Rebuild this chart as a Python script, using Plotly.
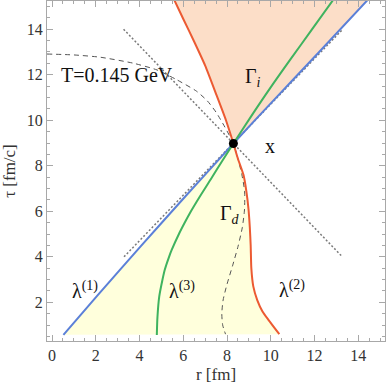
import plotly.graph_objects as go

# 交点 X
x_r = [8.29]
x_tau = [8.98]

# λ(1) 青: 下側(底→X) と 上側(X→上端)
lam1_lo_r = [0.52, 2.05, 4.08, 6.11, 8.29]
lam1_lo_tau = [0.57, 2.27, 4.49, 6.67, 8.98]
lam1_up_r = [8.29, 10.17, 12.21, 14.44]
lam1_up_tau = [8.98, 10.92, 13.0, 15.3]

# λ(3) 緑
lam3_r = [4.79, 4.82, 4.9, 5.05, 5.15, 5.35, 5.47, 5.8, 6.05, 6.35, 6.75, 7.25, 7.77, 8.29,
          9.1, 9.97, 10.88, 11.85, 12.86]
lam3_tau = [0.56, 1.37, 2.25, 3.0, 3.42, 4.0, 4.3, 5.0, 5.47, 6.0, 6.64, 7.4, 8.2, 8.98,
            10.17, 11.41, 12.65, 13.95, 15.3]

# λ(2) オレンジ: 上側(上端→X) と 下側(X→底)
lam2_up_r = [5.58, 6.0, 6.5, 7.0, 7.5, 7.95, 8.29]
lam2_up_tau = [15.3, 14.45, 13.45, 12.4, 11.15, 10.0, 8.98]
lam2_lo_r = [8.29, 8.5, 8.75, 8.88, 8.98, 9.04, 9.08, 9.11, 9.2, 9.38, 9.62, 9.9, 10.39]
lam2_lo_tau = [8.98, 8.3, 7.6, 6.9, 6.1, 5.3, 4.5, 3.5, 2.7, 2.1, 1.6, 1.22, 0.6]

# T=0.145 GeV 等温線（破線）
iso_r = [-0.23, 1.0, 2.2, 3.7, 4.8, 5.7, 6.6, 7.1, 7.5, 7.9, 8.29,
         8.5, 8.68, 8.8, 8.8, 8.7, 8.5, 8.25, 8.0, 7.82, 7.76, 7.8, 7.93]
iso_tau = [12.91, 12.87, 12.77, 12.51, 12.21, 11.78, 11.28, 10.85, 10.35, 9.7, 8.98,
           8.3, 7.6, 6.9, 6.1, 5.3, 4.45, 3.6, 2.8, 2.1, 1.5, 1.0, 0.6]

# 光円錐（点線）
cone_a_r = [3.29, 13.29]
cone_a_tau = [4.0, 14.0]
cone_b_r = [3.27, 13.27]
cone_b_tau = [14.0, 4.0]

# ラベル
labels = [
    ("T=0.145 GeV", 2.97, 11.99),
    ("x", 9.97, 8.88),
    ("Γ<sub><i>i</i></sub>", 9.19, 11.9),
    ("Γ<sub><i>d</i></sub>", 8.14, 5.85),
    ("λ<sup>(1)</sup>", 1.52, 2.54),
    ("λ<sup>(3)</sup>", 5.95, 2.54),
    ("λ<sup>(2)</sup>", 10.97, 2.58),
]

FONT = "Liberation Serif, Times New Roman, serif"
BLUE = "#5b80d8"
GREEN = "#3fb35f"
ORANGE = "#ec5a32"
FRAME = "#a8a8a8"

fig = go.Figure()

# 領域 Γd（黄）
fig.add_trace(go.Scatter(
    x=lam1_lo_r + lam2_lo_r,
    y=lam1_lo_tau + lam2_lo_tau,
    fill="toself", fillcolor="#ffffdc", line=dict(width=0),
    mode="lines", hoverinfo="skip", showlegend=False,
))
# 領域 Γi（ピーチ）
fig.add_trace(go.Scatter(
    x=lam2_up_r + lam1_up_r,
    y=lam2_up_tau + lam1_up_tau,
    fill="toself", fillcolor="#fcdec8", line=dict(width=0),
    mode="lines", hoverinfo="skip", showlegend=False,
))

for cr, ct in [(cone_a_r, cone_a_tau), (cone_b_r, cone_b_tau)]:
    fig.add_trace(go.Scatter(
        x=cr, y=ct, mode="lines",
        line=dict(color="#7a7a7a", width=1.5, dash="2px,2px"),
        showlegend=False,
    ))

fig.add_trace(go.Scatter(
    x=iso_r, y=iso_tau, mode="lines",
    line=dict(color="#555555", width=1, dash="5px,4px", shape="spline", smoothing=0.6),
    showlegend=False,
))

fig.add_trace(go.Scatter(
    x=lam1_lo_r + lam1_up_r[1:], y=lam1_lo_tau + lam1_up_tau[1:], mode="lines",
    line=dict(color=BLUE, width=2, shape="spline", smoothing=0.6), showlegend=False,
))
fig.add_trace(go.Scatter(
    x=lam3_r, y=lam3_tau, mode="lines",
    line=dict(color=GREEN, width=2, shape="spline", smoothing=0.8), showlegend=False,
))
fig.add_trace(go.Scatter(
    x=lam2_up_r + lam2_lo_r[1:], y=lam2_up_tau + lam2_lo_tau[1:], mode="lines",
    line=dict(color=ORANGE, width=2, shape="spline", smoothing=0.6), showlegend=False,
))

fig.add_trace(go.Scatter(
    x=x_r, y=x_tau, mode="markers",
    marker=dict(color="black", size=9), showlegend=False,
))

for text, r, t in labels:
    fig.add_annotation(
        x=r, y=t, text=text, showarrow=False,
        font=dict(family=FONT, size=20, color="#111111"),
    )

axis_common = dict(
    showgrid=False, zeroline=False,
    showline=True, linecolor=FRAME, linewidth=1, mirror="ticks",
    ticks="inside", ticklen=6, tickcolor=FRAME, tickwidth=1,
    tick0=0, dtick=2,
    minor=dict(ticks="inside", dtick=0.5, ticklen=3, tickcolor=FRAME),
    tickfont=dict(family=FONT, size=16, color="#333333"),
    automargin=False,
)

fig.update_xaxes(
    range=[-0.23, 15.22],
    title=dict(text="r [fm]", font=dict(family=FONT, size=17, color="#333333"), standoff=4),
    **axis_common,
)
fig.update_yaxes(
    range=[0.3, 15.24],
    title=dict(text="τ [fm/c]", font=dict(family=FONT, size=17, color="#333333"), standoff=8),
    **axis_common,
)

fig.update_layout(
    width=388, height=391,
    margin=dict(l=47, r=3, t=1, b=50),
    plot_bgcolor="white", paper_bgcolor="white",
    showlegend=False,
)

# ページ余白を消して図を左上に合わせる
fig.write_html(
    "out.html",
    config={"displayModeBar": False},
    post_script="document.body.style.margin='0';",
)
